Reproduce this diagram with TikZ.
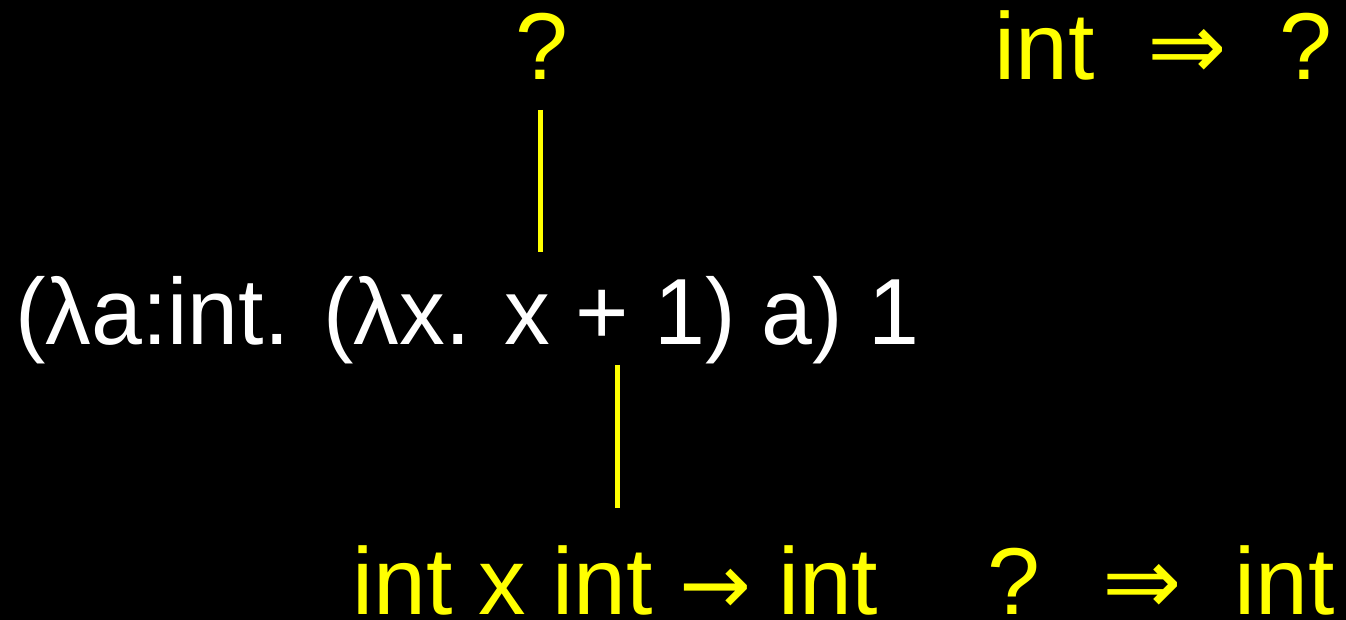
\documentclass[tikz,border=0pt]{standalone}
\usepackage{fontspec}
\setmainfont{Liberation Sans}
\newfontfamily\arrowfont{DejaVu Sans}
\usetikzlibrary{positioning}
\definecolor{hiyellow}{RGB}{255,255,0}

\begin{document}
\begin{tikzpicture}[x=1pt,y=1pt,
  expr/.style={text=white,inner sep=0pt,font=\fontsize{94}{110}\selectfont},
  note/.style={text=hiyellow,inner sep=0pt,font=\fontsize{95}{110}\selectfont},
  tick/.style={draw=hiyellow,line width=5pt}
]
\fill[black] (0,0) rectangle (1346,620);
\useasboundingbox (0,0) rectangle (1346,620);
% the term
\node[expr,anchor=base west,xscale=0.973,transform shape] (term) at (15,275) {(λa:int. (λx. x + 1) a) 1};
% hole above, type below
\node[note,anchor=base] (hole) at (542,540) {?};
\node[note,anchor=base west] (optype) at (352,5) {int x int {\arrowfont\fontsize{86}{100}\selectfont →} int};
\coordinate (holefoot) at (540,368);
\coordinate (holehead) at (540,510);
\coordinate (opfoot) at (617,112);
\coordinate (ophead) at (617,255);
\draw[tick] (holehead) -- (holefoot);
\draw[tick] (ophead) -- (opfoot);
% casts on the right
\node[note,anchor=base east] (castin) at (1333,540) {int \ {\arrowfont ⇒}\ \ ?};
\node[note,anchor=base east] (castout) at (1335,5) {? \ {\arrowfont ⇒}\ \ int};
\end{tikzpicture}
\end{document}
